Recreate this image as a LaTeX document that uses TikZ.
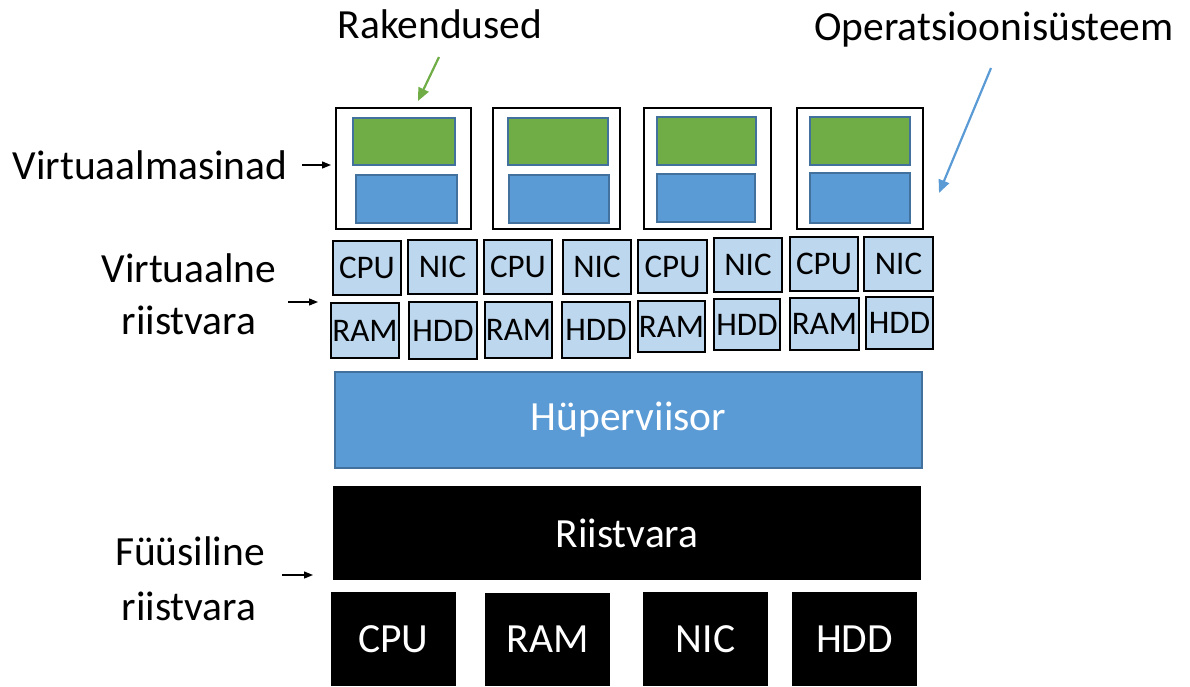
\documentclass[tikz,border=0pt]{standalone}
\usepackage{fontspec}
\setmainfont{Carlito}
\usetikzlibrary{arrows.meta}

\definecolor{appgreen}{HTML}{70AD47}
\definecolor{osblue}{HTML}{5B9BD5}
\definecolor{edgeblue}{HTML}{41719C}
\definecolor{vhwblue}{HTML}{BDD7EE}

% rectangle node given by its corners: name, style, x1, y1, x2, y2, text
\newcommand\bx[7]{%
  \node[#2, anchor=north west, minimum width={#5-#3}, minimum height={#6-#4}]
    (#1) at (#3,#4) {#7};}

\tikzset{
  base/.style={inner sep=0pt, outer sep=0pt, rectangle},
  bigtext/.style={font=\fontsize{41.5}{50}\selectfont},
  smalltext/.style={font=\fontsize{33}{40}\selectfont},
  vmbox/.style={base, draw=black, line width=2.8pt, fill=white},
  appbox/.style={base, draw=edgeblue, line width=2.2pt, fill=appgreen},
  osbox/.style={base, draw=edgeblue, line width=2.2pt, fill=osblue},
  vhw/.style={base, draw=black, line width=2.4pt, fill=vhwblue, smalltext},
  hyper/.style={base, draw=edgeblue, line width=1.2pt, fill=osblue, text=white, bigtext},
  phys/.style={base, fill=black, text=white, bigtext},
  label/.style={inner sep=0pt, anchor=base, bigtext, align=center},
  pointer/.style={line width=1.3pt, -{Triangle[length=9pt, width=7pt]}},
  bigpointer/.style={line width=2.2pt, -{Triangle[length=13pt, width=11pt]}},
}

\begin{document}
\begin{tikzpicture}[x=1pt, y=-1pt]
\useasboundingbox (0,0) rectangle (1190,686);

% virtual machines: application on top of the operating system
\bx{vm1}{vmbox}{336}{108}{471}{229}{}
\bx{app1}{appbox}{353}{118}{455}{165}{}
\bx{os1}{osbox}{356}{175}{457}{223}{}

\bx{vm2}{vmbox}{493}{108}{620}{229}{}
\bx{app2}{appbox}{508}{118}{608}{165}{}
\bx{os2}{osbox}{509}{175}{609}{223}{}

\bx{vm3}{vmbox}{644}{108}{771}{229}{}
\bx{app3}{appbox}{657}{117}{756}{165}{}
\bx{os3}{osbox}{657}{174}{755}{222}{}

\bx{vm4}{vmbox}{797}{108}{923}{229}{}
\bx{app4}{appbox}{810}{117}{910}{165}{}
\bx{os4}{osbox}{810}{173}{910}{223}{}

% virtual hardware per machine
\bx{cpu1}{vhw}{333}{241}{401}{295}{CPU}
\bx{nic1}{vhw}{408}{240}{477}{294}{NIC}
\bx{ram1}{vhw}{331}{303}{399}{358}{RAM}
\bx{hdd1}{vhw}{409}{302}{477}{359}{HDD}

\bx{cpu2}{vhw}{484}{240}{552}{294}{CPU}
\bx{nic2}{vhw}{563}{240}{631}{294}{NIC}
\bx{ram2}{vhw}{485}{302}{552}{358}{RAM}
\bx{hdd2}{vhw}{562}{302}{630}{358}{HDD}

\bx{cpu3}{vhw}{638}{240}{707}{293}{CPU}
\bx{nic3}{vhw}{714}{238}{782}{292}{NIC}
\bx{ram3}{vhw}{638}{301}{705}{352}{RAM}
\bx{hdd3}{vhw}{714}{299}{780}{350}{HDD}

\bx{cpu4}{vhw}{790}{237}{858}{291}{CPU}
\bx{nic4}{vhw}{864}{237}{933}{291}{NIC}
\bx{ram4}{vhw}{790}{298}{859}{350}{RAM}
\bx{hdd4}{vhw}{866}{297}{933}{349}{HDD}

% hypervisor and physical hardware
\bx{hyp}{hyper}{335}{372}{922}{468}{Hüperviisor}
\bx{hw}{phys}{333}{486}{921}{580}{Riistvara}
\bx{pcpu}{phys}{331}{592}{456}{686}{CPU}
\bx{pram}{phys}{485}{593}{610}{686}{RAM}
\bx{pnic}{phys}{643}{592}{768}{686}{NIC}
\bx{phdd}{phys}{792}{592}{917}{686}{HDD}

% labels
\node[label] (lapps) at (440,38) {Rakendused};
\node[label] (los) at (994,40) {Operatsioonisüsteem};
\node[label] (lvm) at (150,179) {Virtuaalmasinad};
\node[label] (lvhw1) at (189,282) {Virtuaalne};
\node[label] (lvhw2) at (189,334) {riistvara};
\node[label] (lphw1) at (190,565) {Füüsiline};
\node[label] (lphw2) at (189,620) {riistvara};

% pointers
\coordinate (appsfrom) at (439,57);
\coordinate (appsto) at (418,101);
\coordinate (osfrom) at (991,68);
\coordinate (osto) at (939,193);
\coordinate (vmfrom) at (302,165);
\coordinate (vmto) at (331,165);
\coordinate (vhwfrom) at (288,302);
\coordinate (vhwto) at (318,302);
\coordinate (phwfrom) at (282,575);
\coordinate (phwto) at (313,575);

\draw[bigpointer, appgreen] (appsfrom) -- (appsto);
\draw[bigpointer, osblue] (osfrom) -- (osto);
\draw[pointer] (vmfrom) -- (vmto);
\draw[pointer] (vhwfrom) -- (vhwto);
\draw[pointer] (phwfrom) -- (phwto);
\end{tikzpicture}
\end{document}
